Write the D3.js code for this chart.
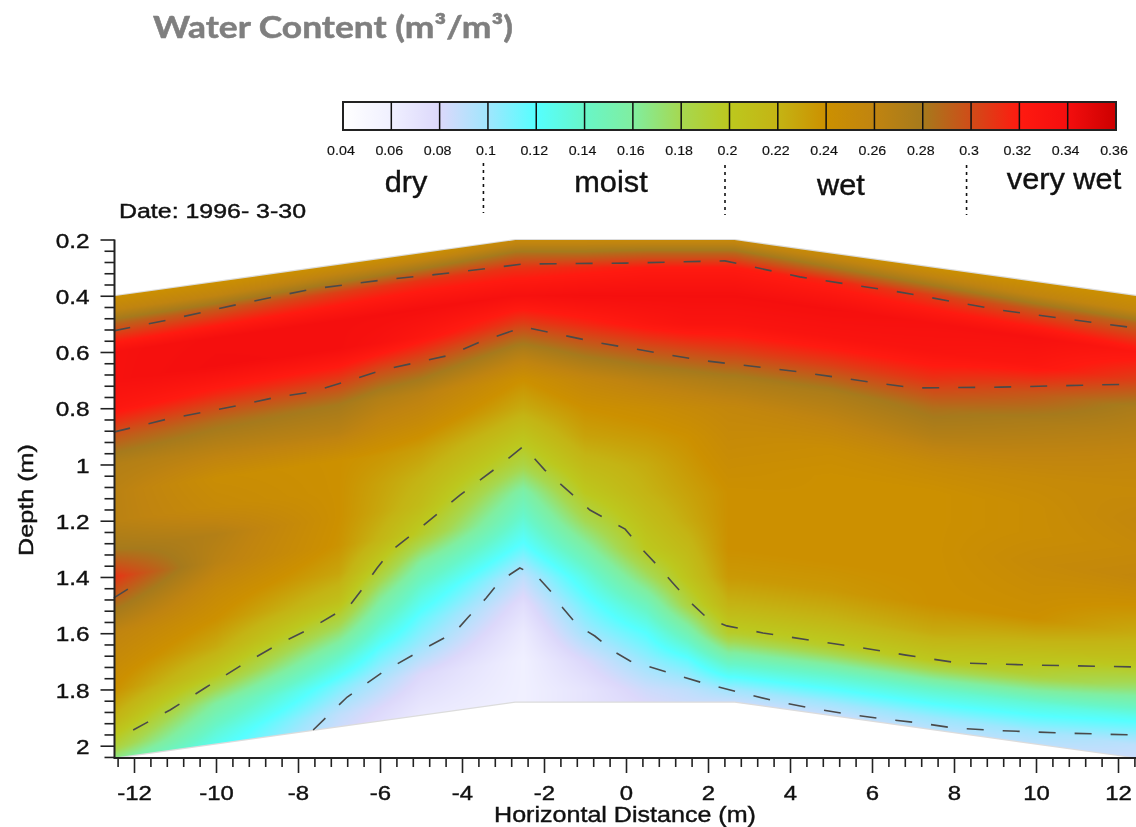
<!DOCTYPE html>
<meta charset="utf-8">
<head>
<style>
    html, body { margin: 0; background: #fff; }
    body { width: 1136px; height: 827px; overflow: hidden; position: relative; }
    canvas, svg { position: absolute; left: 0; top: 0; }
    text { font-family: "Liberation Sans", sans-serif; fill: #111; stroke: #111; stroke-width: 0.4px; }
    .wide { transform-box: fill-box; transform-origin: 50% 50%; transform: scaleX(1.14); }
    .wideEnd { transform-box: fill-box; transform-origin: 100% 50%; transform: scaleX(1.16); }
    .tall { transform-box: fill-box; transform-origin: 50% 50%; transform: scaleX(1.06); }
    .soft { filter: blur(0.5px); }
</style>
<script src="https://d3js.org/d3.v7.min.js"></script>
</head>
<body>
<canvas id="field" width="1136" height="827"></canvas>
<svg id="chart" width="1136" height="827"></svg>
<script>
// colour bar
var legendValues = [0.04, 0.06, 0.08, 0.1, 0.12, 0.14, 0.16, 0.18, 0.2, 0.22, 0.24, 0.26, 0.28, 0.3, 0.32, 0.34, 0.36];
var legendColors = ["#ffffff", "#f0f0ff", "#dcd8fb", "#a0e6fd", "#55ffff", "#68f6c8", "#80eea0", "#a6d850",
                    "#bcc81e", "#c4b414", "#cc9000", "#c08410", "#a67a1c", "#d04c18", "#ff1a10", "#f40e0e", "#cc0000"];
var classNames = ["dry", "moist", "wet", "very wet"];
var classBreaks = [0.1, 0.2, 0.3];

// soil surface and base of the section
var edgeX = [-12.5, -2.7, 2.65, 12.5];
var edgeTop = [0.4, 0.2, 0.2, 0.4];
var edgeBottom = [2.045, 1.845, 1.845, 2.045];

// water content, rows = metres below the surface, columns = horizontal distance
var columnX = [-12.5, -10, -7, -6, -5, -2.5, -1, 0.5, 1.5, 2.5, 5, 7.5, 10, 12.5];
var rowOffset = [0, 0.05, 0.1, 0.2, 0.3, 0.4, 0.5, 0.6, 0.7, 0.8, 0.9, 1, 1.1, 1.2, 1.3, 1.4, 1.5, 1.6, 1.65];
var waterContent = [
    [.24, .24, .24, .24, .24, .25, .25, .25, .25, .25, .245, .24, .24, .24],
    [.26, .26, .27, .272, .275, .285, .285, .29, .29, .29, .28, .27, .26, .255],
    [.29, .295, .305, .308, .31, .31, .315, .32, .32, .32, .315, .305, .295, .29],
    [.335, .338, .338, .338, .338, .335, .338, .338, .338, .338, .338, .335, .335, .325],
    [.335, .34, .338, .333, .325, .305, .315, .325, .33, .33, .33, .33, .325, .305],
    [.325, .315, .31, .30, .295, .27, .285, .295, .30, .305, .305, .31, .295, .275],
    [.295, .285, .28, .27, .265, .24, .255, .265, .27, .275, .275, .285, .275, .265],
    [.27, .265, .265, .255, .25, .225, .24, .245, .25, .255, .26, .27, .262, .255],
    [.265, .245, .24, .237, .232, .205, .23, .235, .24, .25, .245, .25, .25, .25],
    [.265, .25, .24, .23, .22, .185, .215, .225, .235, .245, .24, .24, .245, .255],
    [.28, .27, .24, .227, .212, .155, .2, .22, .23, .24, .24, .24, .245, .25],
    [.31, .265, .238, .218, .195, .135, .18, .21, .225, .24, .24, .24, .25, .255],
    [.285, .25, .228, .195, .16, .115, .155, .2, .215, .24, .24, .24, .245, .24],
    [.26, .24, .208, .165, .135, .09, .13, .175, .205, .235, .235, .24, .24, .225],
    [.25, .225, .175, .14, .115, .075, .112, .145, .185, .22, .22, .225, .215, .205],
    [.24, .2, .14, .115, .1, .065, .098, .12, .15, .195, .195, .2, .19, .17],
    [.22, .16, .11, .095, .08, .06, .08, .102, .115, .145, .14, .14, .135, .125],
    [.19, .135, .09, .08, .07, .06, .07, .085, .09, .1, .1, .102, .1, .09],
    [.165, .125, .085, .075, .065, .06, .07, .08, .085, .085, .085, .09, .09, .085]
];

// dashed contour lines: [distance, depth]
var contourUpper = [[-12.5, .525], [-11.17, .486], [-9.41, .429], [-7.66, .376], [-5.93, .344], [-4.29, .319], [-2.5, .287], [0, .284], [2.41, .276], [4.24, .333], [6.68, .387], [9.12, .451], [12.44, .515]];
var contourLower = [[-12.5, .885], [-11.17, .838], [-9.41, .789], [-8.51, .76], [-7.66, .742], [-6.78, .703], [-5.93, .664], [-4.29, .611], [-3.56, .564], [-2.5, .511], [-.63, .568], [1.8, .629], [4.24, .671], [5.95, .707], [7.05, .728], [9.12, .725], [12.44, .714]];
var contourWet = [[-12.02, 1.944], [-11.12, 1.873], [-10.27, 1.795], [-9.37, 1.713], [-8.51, 1.642], [-7.63, 1.578], [-6.73, 1.5], [-6.41, 1.439], [-6.07, 1.368], [-5.76, 1.311], [-5.02, 1.226], [-4.05, 1.109], [-3.07, 1.002], [-2.5, .935], [-1.98, 1.02], [-.88, 1.162], [-.02, 1.23], [.32, 1.29], [.76, 1.358], [1.12, 1.418], [1.56, 1.489], [1.98, 1.546], [2.46, 1.574], [3.34, 1.599], [4.63, 1.628], [5.93, 1.656], [6.83, 1.678], [8.12, 1.706], [9.88, 1.713], [12.44, 1.72]];
var contourDry = [[-7.63, 1.944], [-6.8, 1.827], [-5.93, 1.738], [-5.07, 1.667], [-4.17, 1.596], [-3.85, 1.543], [-3.41, 1.475], [-3.07, 1.414], [-2.59, 1.368], [-2.17, 1.397], [-1.8, 1.457], [-1.54, 1.51], [-1.17, 1.574], [-.76, 1.61], [-.32, 1.663], [.1, 1.699], [1, 1.738], [1.88, 1.777], [2.73, 1.809], [3.63, 1.841], [4.51, 1.866], [5.37, 1.887], [6.27, 1.905], [7.15, 1.919], [8, 1.937], [8.9, 1.945], [10.66, 1.955], [12.44, 1.962]];
var contourPocket = [[-12.5, 1.475], [-12.15, 1.443]];
var contours = [contourUpper, contourLower, contourWet, contourDry, contourPocket];

var distanceTicks = [-12, -10, -8, -6, -4, -2, 0, 2, 4, 6, 8, 10, 12];
var depthTicks = [0.2, 0.4, 0.6, 0.8, 1, 1.2, 1.4, 1.6, 1.8, 2];

var x = d3.scaleLinear().domain([-12.5, 12.5]).range([113.5, 1138.5]);
var y = d3.scaleLinear().domain([0.2, 2]).range([239.5, 745.7]);
var topAt = d3.scaleLinear().domain(edgeX).range(edgeTop);
var bottomAt = d3.scaleLinear().domain(edgeX).range(edgeBottom);
var color = d3.scaleLinear().domain(legendValues).range(legendColors).clamp(true);

var svg = d3.select("#chart");

// lookup of the table, blended between neighbouring cells
function lookup(dist, offset) {
    var c = Math.min(d3.bisectRight(columnX, dist) - 1, columnX.length - 2);
    var r = Math.max(0, Math.min(d3.bisectRight(rowOffset, offset) - 1, rowOffset.length - 2));
    var tx = (dist - columnX[c]) / (columnX[c + 1] - columnX[c]);
    var ty = (offset - rowOffset[r]) / (rowOffset[r + 1] - rowOffset[r]);
    var a = waterContent[r][c] * (1 - tx) + waterContent[r][c + 1] * tx;
    var b = waterContent[r + 1][c] * (1 - tx) + waterContent[r + 1][c + 1] * tx;
    return a * (1 - ty) + b * ty;
}

function drawField() {
    var ctx = document.getElementById("field").getContext("2d");
    var x0 = Math.ceil(x(-12.5));
    for (var px = x0; px < 1136; px++) {
        var dist = x.invert(px + 0.5);
        var top = topAt(dist), bottom = bottomAt(dist);
        var py0 = Math.round(y(top)), py1 = Math.min(Math.round(y(bottom)), 758);
        for (var py = py0; py < py1; py++) {
            var depth = y.invert(py + 0.5);
            ctx.fillStyle = color(lookup(dist, depth - top));
            ctx.fillRect(px, py, 1, 1);
        }
    }
}
drawField();

// surface edges
var edgeLine = d3.line().x(function (d) { return x(d[0]) }).y(function (d) { return y(d[1]) });
[edgeTop, edgeBottom].forEach(function (edge) {
    svg.append("path")
        .attr("d", edgeLine(edgeX.map(function (d, i) { return [d, edge[i]] })))
        .attr("fill", "none").attr("stroke", "#dcdcdc").attr("stroke-width", 1.2);
});

// contours
svg.append("clipPath").attr("id", "plot").append("rect")
    .attr("x", x(-12.5)).attr("y", 230).attr("width", 1030).attr("height", 528);

svg.append("g").attr("clip-path", "url(#plot)")
    .selectAll("path").data(contours).enter().append("path")
    .attr("d", edgeLine)
    .attr("fill", "none")
    .attr("stroke", "#4a4a4a")
    .attr("stroke-width", 1.6)
    .attr("stroke-dasharray", "17 19");

var axes = svg.append("g").attr("class", "soft");

// y axis
var minorDepth = d3.range(0.2, 2.05, 0.04).map(function (d) { return +d.toFixed(2) })
    .filter(function (d) { return depthTicks.indexOf(d) < 0 });
var yMinor = axes.append("g").attr("transform", "translate(114.5,0)")
    .call(d3.axisLeft(y).tickValues(minorDepth).tickSize(10).tickSizeOuter(0).tickFormat(""));
var yMajor = axes.append("g").attr("transform", "translate(114.5,0)")
    .call(d3.axisLeft(y).tickValues(depthTicks).tickSize(14).tickSizeOuter(0).tickFormat(String));

// x axis
var minorDistance = d3.range(-12.4, 12.5, 0.4).map(function (d) { return +d.toFixed(1) })
    .filter(function (d) { return distanceTicks.indexOf(d) < 0 });
var xMinor = axes.append("g").attr("transform", "translate(0,758)")
    .call(d3.axisBottom(x).tickValues(minorDistance).tickSize(9).tickSizeOuter(0).tickFormat(""));
var xMajor = axes.append("g").attr("transform", "translate(0,758)")
    .call(d3.axisBottom(x).tickValues(distanceTicks).tickSize(15).tickSizeOuter(0).tickFormat(String));

axes.selectAll(".domain").attr("stroke", "#222").attr("stroke-width", 2);
axes.selectAll(".tick line").attr("stroke", "#222").attr("stroke-width", 1.6);
yMajor.select(".domain").attr("d", "M0," + y(0.2) + "V758");
yMinor.select(".domain").remove();
xMajor.select(".domain").attr("d", "M" + x(-12.5) + ",0H1136");
xMinor.select(".domain").remove();

yMajor.selectAll("text").attr("font-size", 21).attr("x", -25).attr("dy", "0.36em").attr("class", "wideEnd")
    .style("font-family", "'Liberation Sans'");
xMajor.selectAll("text").attr("font-size", 21).attr("y", 27).attr("dy", "0.71em").attr("class", "wide")
    .style("font-family", "'Liberation Sans'");

axes.append("text").attr("class", "wide")
    .attr("x", 625).attr("y", 822).attr("text-anchor", "middle").attr("font-size", 22)
    .text("Horizontal Distance (m)");

axes.append("text")
    .attr("transform", "translate(33,500) rotate(-90)")
    .attr("text-anchor", "middle").attr("font-size", 21)
    .attr("textLength", 112).attr("lengthAdjust", "spacingAndGlyphs")
    .text("Depth (m)");

axes.append("text")
    .attr("x", 119).attr("y", 218).attr("font-size", 20)
    .attr("textLength", 187).attr("lengthAdjust", "spacingAndGlyphs")
    .text("Date: 1996- 3-30");

// colour bar
var legendX = d3.scaleLinear().domain([0.04, 0.36]).range([343, 1116]);

var gradient = svg.append("defs").append("linearGradient").attr("id", "bar");
gradient.selectAll("stop").data(legendValues).enter().append("stop")
    .attr("offset", function (d) { return (legendX(d) - 343) / 773 })
    .attr("stop-color", function (d) { return color(d) });

var legend = svg.append("g").attr("class", "soft");

legend.append("rect")
    .attr("x", 343).attr("y", 102).attr("width", 773).attr("height", 28)
    .attr("fill", "url(#bar)").attr("stroke", "#222").attr("stroke-width", 2);

legend.selectAll(".divider").data(legendValues.slice(1, -1)).enter().append("line")
    .attr("class", "divider")
    .attr("x1", legendX).attr("x2", legendX)
    .attr("y1", 102).attr("y2", 130)
    .attr("stroke", "#111").attr("stroke-width", 1.5);

legend.selectAll(".barLabel").data(legendValues).enter().append("text")
    .attr("class", "barLabel wide")
    .attr("x", function (d) { return legendX(d) - 2 })
    .attr("y", 155)
    .attr("text-anchor", "middle")
    .attr("font-size", 12.5)
    .style("stroke-width", "0.15px")
    .text(String);

var classX = [406, 611, 841, 1064];
var classY = [192, 192, 195, 189];
legend.selectAll(".className").data(classNames).enter().append("text")
    .attr("class", "className tall")
    .attr("x", function (d, i) { return classX[i] })
    .attr("y", function (d, i) { return classY[i] })
    .attr("text-anchor", "middle")
    .attr("font-size", 29)
    .text(String);

var breakTop = [163, 165, 165];
legend.selectAll(".classBreak").data(classBreaks).enter().append("line")
    .attr("class", "classBreak")
    .attr("x1", function (d) { return legendX(d) - 4.5 })
    .attr("x2", function (d) { return legendX(d) - 4.5 })
    .attr("y1", function (d, i) { return breakTop[i] })
    .attr("y2", function (d, i) { return breakTop[i] + 50 })
    .attr("stroke", "#111").attr("stroke-width", 1.6).attr("stroke-dasharray", "3 4");

// title
svg.append("text")
    .attr("x", 153).attr("y", 38)
    .attr("font-size", 30).attr("font-weight", "bold")
    .style("font-family", "Lato").style("fill", "#7f7f7f").style("stroke", "#7f7f7f").style("stroke-width", "0.5px")
    .attr("textLength", 360).attr("lengthAdjust", "spacingAndGlyphs")
    .text("Water Content (m³/m³)");
</script>
</body>
